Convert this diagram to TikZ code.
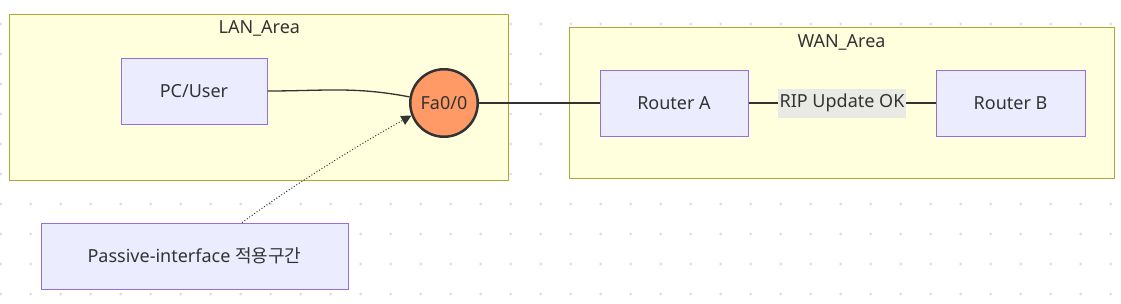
\documentclass[tikz,border=0pt]{standalone}
\usepackage{fontspec}
\setmainfont{Noto Sans}
\newfontfamily\kr{Noto Sans CJK KR}
\usetikzlibrary{arrows.meta,positioning}
\definecolor{nwyellow}{HTML}{FFFFDE}
\definecolor{nwolive}{HTML}{AAAA33}
\definecolor{nwnode}{HTML}{ECECFF}
\definecolor{nwpurple}{HTML}{9370DB}
\definecolor{nworange}{HTML}{FF9966}
\definecolor{nwtext}{HTML}{333333}
\definecolor{nwlabel}{HTML}{EAEAE4}
\definecolor{nwdot}{HTML}{E0E0E0}

\begin{document}
\begin{tikzpicture}[x=1pt,y=-1pt,>=Triangle,font=\fontsize{18}{21}\selectfont,text=nwtext,
 area/.style={draw=nwolive,fill=nwyellow,line width=1pt,inner sep=0pt},
 comp/.style={draw=nwpurple,fill=nwnode,line width=1pt,minimum width=146pt,minimum height=66pt,inner sep=0pt},
 port/.style={circle,draw=nwtext,fill=nworange,line width=2.5pt,minimum size=67.5pt,inner sep=0pt},
 link/.style={draw=nwtext,line width=1.3pt}]
\useasboundingbox (0,0) rectangle (1121,303);
% background dots
\foreach \i in {0,...,37}
  \foreach \j in {0,...,9}
    \fill[nwdot] (0.7+30*\i,24+30*\j) circle (1.6pt);
% areas
\node[area,minimum width=498.7pt,minimum height=166.5pt](lan) at (259.3,97.25){};
\node[area,minimum width=545pt,minimum height=151.3pt](wan) at (841.5,103.3){};
\node[below=7pt of lan.north,inner sep=0pt](lantitle){LAN\_Area};
\node[below=7pt of wan.north,inner sep=0pt](wantitle){WAN\_Area};
% nodes
\node[comp](pc) at (194,91){PC/User};
\node[port](fa) at (444,103){Fa0/0};
\node[comp,minimum width=148pt](ra) at (674,103){Router A};
\node[comp,minimum width=149pt,right=187pt of ra](rb){Router B};
\node[comp,minimum width=307pt](pass) at (194.5,256){Passive-interface {\kr 적용구간}};
% links
\draw[link](pc.east) to[out=0,in=169] (fa.170);
\draw[link](fa)--(ra);
\draw[link](ra)--node[fill=nwlabel,inner xsep=1.5pt,inner ysep=0pt,minimum height=29pt]{RIP Update OK}(rb);
\draw[link,line width=1pt,dotted,-{Triangle[length=10pt,width=10pt]}]([xshift=47.5pt]pass.north) to[out=36,in=209,looseness=0.8] (fa.201);
\end{tikzpicture}
\end{document}
